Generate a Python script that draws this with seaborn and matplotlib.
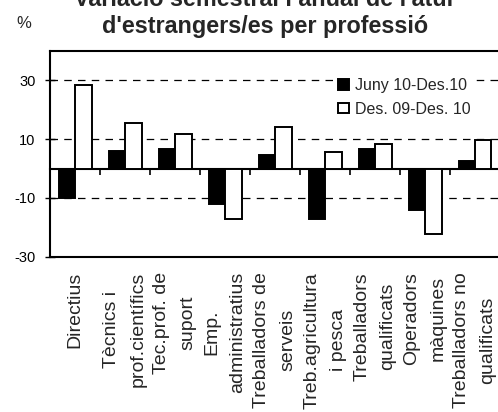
import numpy as np
import pandas as pd
import matplotlib
matplotlib.use('Agg')
import matplotlib.pyplot as plt
import seaborn as sns

# Categories and values
professions = ['Directius', 'Tècnics i\nprof.científics', 'Tec.prof. de\nsuport',
               'Emp.\nadministratius', 'Treballadors de\nserveis',
               'Treb.agricultura\ni pesca', 'Treballadors\nqualificats',
               'Operadors\nmàquines', 'Treballadors no\nqualificats']
series_names = ['Juny 10-Des.10', 'Des. 09-Des. 10']
semestral = [-10.0, 6.0, 6.5, -12.2, 4.5, -17.3, 6.5, -14.2, 2.6]
anual = [28.4, 15.6, 11.6, -17.2, 14.2, 5.7, 8.3, -22.3, 9.6]
y_ticks = [-30, -10, 10, 30]

df = pd.DataFrame({
    'professio': professions * 2,
    'periode': [series_names[0]] * len(professions) + [series_names[1]] * len(professions),
    'valor': semestral + anual,
})

sns.set_theme(style='white')
plt.rcParams['font.family'] = ['Liberation Sans', 'DejaVu Sans']
plt.rcParams['axes.unicode_minus'] = False

fig = plt.figure(figsize=(4.98, 4.12), dpi=100)
ax = fig.add_axes([50 / 498, 155.3 / 412, 450 / 498, 205.7 / 412])

sns.barplot(data=df, x='professio', y='valor', hue='periode', order=professions,
            hue_order=series_names, palette=['black', 'white'], edgecolor='black',
            linewidth=1.4, width=0.66, ax=ax, zorder=3)

ax.set_ylim(-30, 40)
ax.set_xlim(-0.5, len(professions) - 0.5)
ax.set_yticks(y_ticks)
ax.set_xticks(range(len(professions)), labels=professions, rotation=90, ha='center',
              va='top', linespacing=1.7, multialignment='center', fontsize=14)
ax.set_xlabel('')
ax.set_ylabel('')
ax.tick_params(axis='x', length=0, pad=11)
ax.tick_params(axis='y', direction='inout', length=7, width=1, color='black',
               labelsize=10.5, labelcolor='black', pad=7, left=True)
ax.yaxis.grid(True, linestyle=(0, (6, 5)), color='black', linewidth=0.9)
ax.set_axisbelow(True)
for sp in ax.spines.values():
    sp.set_color('black')
    sp.set_linewidth(1.5)

# zero line with tick marks between categories
zero_axis = ax.secondary_xaxis(30 / 70)
zero_axis.set_xticks(np.arange(len(professions) - 1) + 0.5)
zero_axis.tick_params(direction='out', length=4, width=1.2, color='black', labelbottom=False)
zero_axis.spines['bottom'].set_linewidth(1.5)
zero_axis.spines['bottom'].set_color('black')

handles, labels = ax.get_legend_handles_labels()
leg = ax.legend(handles, labels, loc='center left', bbox_to_anchor=(0.63, 0.775),
                fontsize=11.5, frameon=True, facecolor='white', edgecolor='none',
                framealpha=1, fancybox=False, handlelength=0.65, handleheight=0.65,
                handletextpad=0.4, labelspacing=0.55, borderpad=0.3, borderaxespad=0)

fig.text(24 / 498, 1 - 23 / 412, '%', ha='center', va='center', fontsize=12)
fig.text(265 / 498, 1 - 6 / 412, "Variació semestral i anual de l'atur", ha='center',
         va='baseline', fontsize=16.8, fontweight='bold')
fig.text(265 / 498, 1 - 33 / 412, "d'estrangers/es per professió", ha='center',
         va='baseline', fontsize=16.8, fontweight='bold')

fig.savefig('out.png', dpi=100)
